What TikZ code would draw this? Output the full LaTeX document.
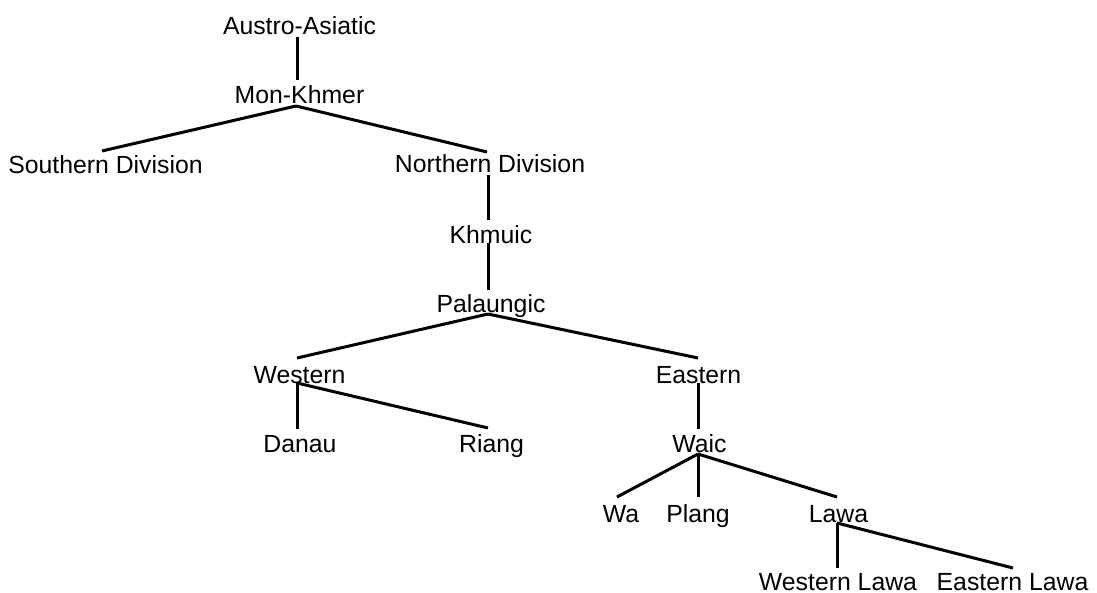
\documentclass[tikz,border=0pt]{standalone}
\usepackage{fontspec}
\setmainfont{Liberation Sans}
\begin{document}
\begin{tikzpicture}[x=0.5pt,y=-0.5pt,
  lbl/.style={anchor=base,inner sep=0pt,font=\fontsize{12.4}{14}\selectfont},
  edge/.style={line width=1.5pt,black}]
\useasboundingbox (0,0) rectangle (1097,593);
% nodes
\node[lbl] (aa) at (299.5,35) {Austro-Asiatic};
\node[lbl] (mk) at (299.5,104) {Mon-Khmer};
\node[lbl] (sd) at (105.5,174) {Southern Division};
\node[lbl] (nd) at (490,173) {Northern Division};
\node[lbl] (kh) at (491,243) {Khmuic};
\node[lbl] (pa) at (491,312) {Palaungic};
\node[lbl] (we) at (299.5,383) {Western};
\node[lbl] (da) at (300,452) {Danau};
\node[lbl] (ri) at (491.5,452) {Riang};
\node[lbl] (ea) at (698.5,383) {Eastern};
\node[lbl] (wc) at (699.5,452) {Waic};
\node[lbl] (wa) at (621,522) {Wa};
\node[lbl] (pl) at (698,522) {Plang};
\node[lbl] (la) at (838.5,522) {Lawa};
\node[lbl] (wl) at (838,590) {Western Lawa};
\node[lbl] (el) at (1012.5,590) {Eastern Lawa};
% connector end points
\coordinate (aa-b) at (297,37);  \coordinate (mk-t) at (297,80);
\coordinate (mk-b) at (296,106); \coordinate (sd-t) at (102,151); \coordinate (nd-t) at (487,152);
\coordinate (nd-b) at (488,175); \coordinate (kh-t) at (488,220);
\coordinate (kh-b) at (488,243); \coordinate (pa-t) at (488,290);
\coordinate (pa-b) at (488,314); \coordinate (we-t) at (297,358); \coordinate (ea-t) at (698,358);
\coordinate (we-b) at (297,383); \coordinate (da-t) at (297,429); \coordinate (ri-t) at (488,428);
\coordinate (ea-b) at (698,383); \coordinate (wc-t) at (698,429);
\coordinate (wc-b) at (698,454); \coordinate (wa-t) at (617,497); \coordinate (pl-t) at (698,497); \coordinate (la-t) at (837,497);
\coordinate (la-b) at (837,523); \coordinate (wl-t) at (837,568); \coordinate (el-t) at (1013,568);
% connectors
\draw[edge] (aa-b) -- (mk-t);
\draw[edge] (mk-b) -- (sd-t);
\draw[edge] (mk-b) -- (nd-t);
\draw[edge] (nd-b) -- (kh-t);
\draw[edge] (kh-b) -- (pa-t);
\draw[edge] (pa-b) -- (we-t);
\draw[edge] (pa-b) -- (ea-t);
\draw[edge] (we-b) -- (da-t);
\draw[edge] (we-b) -- (ri-t);
\draw[edge] (ea-b) -- (wc-t);
\draw[edge] (wc-b) -- (wa-t);
\draw[edge] (wc-b) -- (pl-t);
\draw[edge] (wc-b) -- (la-t);
\draw[edge] (la-b) -- (wl-t);
\draw[edge] (la-b) -- (el-t);
\end{tikzpicture}
\end{document}
